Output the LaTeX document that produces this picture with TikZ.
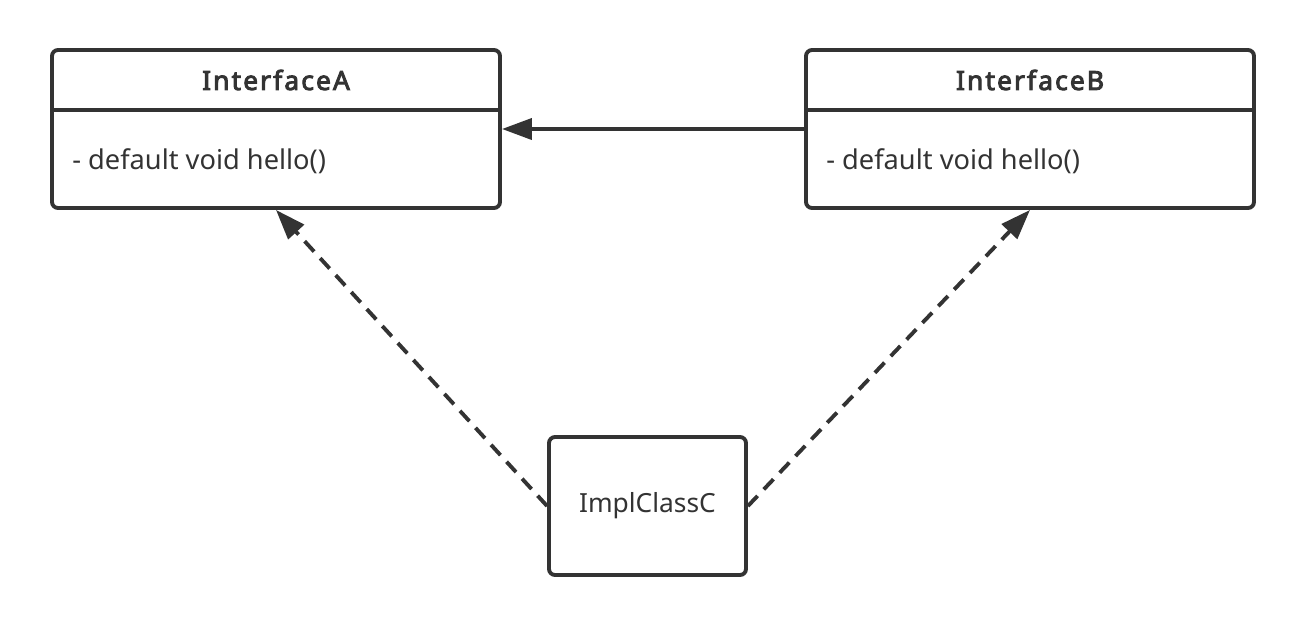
\documentclass[tikz,border=0pt]{standalone}
\usepackage{fontspec}
\setmainfont{Noto Sans}
\newfontfamily\headfont[LetterSpace=8,FakeBold=3.5]{Noto Sans}
\usetikzlibrary{arrows.meta}
\definecolor{umlgray}{HTML}{333333}

\begin{document}
\begin{tikzpicture}[
    umlbox/.style = {draw=umlgray, line width=2.2pt, rounded corners=0.12cm, inner sep=0pt},
    head/.style = {text=umlgray, font=\fontsize{15}{18}\headfont},
    member/.style = {text=umlgray, anchor=west, inner sep=0pt, font=\fontsize{15.5}{18}\selectfont},
    realizes/.style = {draw=umlgray, line width=2.2pt, dash pattern=on 0.28cm off 0.18cm, -{Triangle[length=0.6cm, width=0.42cm]}},
    inherits/.style = {draw=umlgray, line width=2.2pt, -{Triangle[length=0.6cm, width=0.42cm]}}
  ]
      \useasboundingbox (0,0) rectangle (26.12,-12.52);

      % Draw interface boxes
      \node[umlbox, minimum width=8.96cm, minimum height=3.16cm] (A) at (5.52,-2.58) {};
      \node[umlbox, minimum width=8.96cm, minimum height=3.16cm] (B) at (20.6,-2.58) {};
      \draw[umlgray, line width=2.2pt] (1.0,-2.2) -- (10.04,-2.2);
      \draw[umlgray, line width=2.2pt] (16.08,-2.2) -- (25.12,-2.2);

      % Label the boxes
      \node[head] (Atitle) at (5.52,-1.6) {InterfaceA};
      \node[head] (Btitle) at (20.6,-1.6) {InterfaceB};
      \node[member] (Ahello) at (1.44,-3.22) {- default void hello()};
      \node[member] (Bhello) at (16.52,-3.22) {- default void hello()};

      % Implementing class
      \node[umlbox, minimum width=3.94cm, minimum height=2.76cm, font=\fontsize{15}{18}\selectfont, text=umlgray] (C) at (12.95,-10.12) {ImplClassC};

      % Draw relations
      \draw[inherits] (B.west) -- (A.east);
      \draw[realizes] (C.west) -- (A.south);
      \draw[realizes] (C.east) -- (B.south);
  \end{tikzpicture}
\end{document}
